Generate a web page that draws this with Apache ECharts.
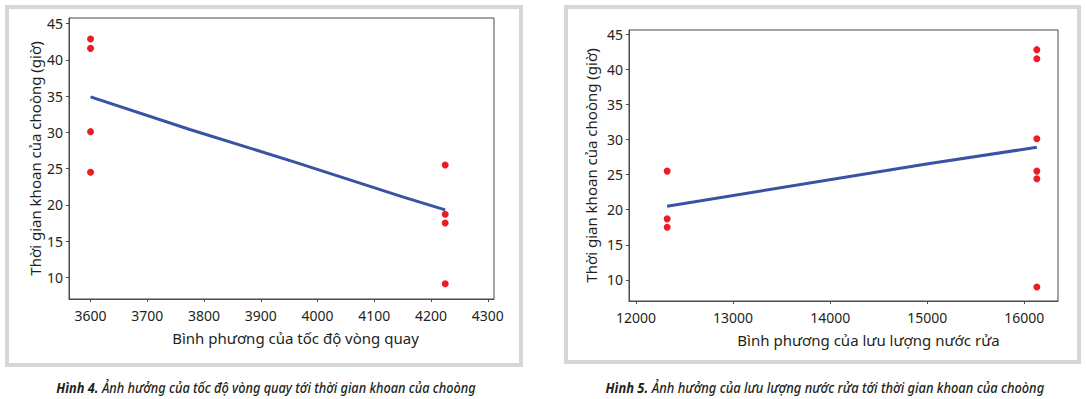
<!DOCTYPE html>
<html>
<head>
<meta charset="utf-8">
<script src="https://cdn.jsdelivr.net/npm/echarts@6/dist/echarts.min.js"></script>
<style>
  html, body { margin: 0; padding: 0; background: #fff; }
  #chart { width: 1086px; height: 399px; }
</style>
</head>
<body>
<div id="chart"></div>
<script>
// du lieu doc tu hinh
var yTicks = [10, 15, 20, 25, 30, 35, 40, 45];
var speedTicks = [3600, 3700, 3800, 3900, 4000, 4100, 4200, 4300];
var flowTicks = [12000, 13000, 14000, 15000, 16000];

// Hinh 4: binh phuong toc do vong quay
var speedX = [3600, 3600, 3600, 3600, 4225, 4225, 4225, 4225];
var speedY = [42.9, 41.6, 30.1, 24.5, 25.5, 18.7, 17.5, 9.1];
var speedFitX = [3600, 3775, 3960, 4150, 4225];
var speedFitY = [34.9, 30.4, 25.9, 21.1, 19.3];

// Hinh 5: binh phuong luu luong nuoc rua
var flowX = [12321, 12321, 12321, 16129, 16129, 16129, 16129, 16129, 16129];
var flowY = [25.5, 18.7, 17.5, 42.8, 41.5, 30.1, 25.5, 24.4, 9.0];
var flowFitX = [12321, 14992, 16129];
var flowFitY = [20.5, 26.5, 28.9];

var yName = "Thời gian khoan của choòng (giờ)";
var font = "'Noto Sans', 'Open Sans', sans-serif";
var capFont = "'Noto Sans', sans-serif";
var txt = "#231f20";
var axisCol = "#4a4a4a";
var red = "#ec1c24";
var blue = "#3a52a4";

function pairs(xs, ys) {
  return xs.map(function (x, i) { return [x, ys[i]]; });
}

function plain(v) {
  return String(v);
}

function xAxisOf(idx, min, max, ticks, name, pad) {
  return {
    type: "value",
    gridIndex: idx,
    min: min,
    max: max,
    axisLine: { show: true, onZero: false, lineStyle: { color: axisCol, width: 1 } },
    axisTick: { show: true, length: 3, customValues: ticks, lineStyle: { color: axisCol } },
    axisLabel: { customValues: ticks, formatter: plain, color: txt, fontSize: 14, fontFamily: font, margin: 9 },
    splitLine: { show: false },
    name: name,
    nameLocation: "middle",
    nameGap: 31,
    nameTextStyle: { color: txt, fontSize: 15, fontFamily: font, padding: [0, 0, 0, pad] }
  };
}

function yAxisOf(idx, max, gap) {
  return {
    type: "value",
    gridIndex: idx,
    min: 7,
    max: max,
    axisLine: { show: true, onZero: false, lineStyle: { color: axisCol, width: 1 } },
    axisTick: { show: true, length: 3, customValues: yTicks, lineStyle: { color: axisCol } },
    axisLabel: { customValues: yTicks, formatter: plain, color: txt, fontSize: 14, fontFamily: font, margin: 6 },
    splitLine: { show: false },
    name: yName,
    nameLocation: "middle",
    nameGap: gap,
    nameTextStyle: { color: txt, fontSize: 15, fontFamily: font }
  };
}

function caption(cx, head, body, sx) {
  return {
    type: "text", x: cx, y: 387, scaleX: sx,
    style: {
      text: "{b|" + head + "}{n| " + body + "}",
      textAlign: "center",
      textVerticalAlign: "middle",
      rich: {
        b: { fontFamily: capFont, fontSize: 15, fontStyle: "italic", fontWeight: "bold", fill: txt },
        n: { fontFamily: capFont, fontSize: 15, fontStyle: "italic", fontWeight: 500, fill: txt }
      }
    }
  };
}

var chart = echarts.init(document.getElementById("chart"), null, { renderer: "svg" });

var option = {
  animation: false,
  backgroundColor: "#fff",
  grid: [
    { left: 69, top: 18, width: 425, height: 281, show: true, borderColor: axisCol, borderWidth: 1, backgroundColor: "transparent" },
    { left: 629, top: 30, width: 429, height: 271, show: true, borderColor: axisCol, borderWidth: 1, backgroundColor: "transparent" }
  ],
  xAxis: [
    xAxisOf(0, 3562, 4311, speedTicks, "Bình phương của tốc độ vòng quay", 28),
    xAxisOf(1, 11928, 16347, flowTicks, "Bình phương của lưu lượng nước rửa", 50)
  ],
  yAxis: [
    yAxisOf(0, 45.79, 27),
    yAxisOf(1, 45.6, 31)
  ],
  graphic: [
    { type: "rect", z: -10, shape: { x: 7, y: 7, width: 514, height: 358 }, style: { fill: "#fff", stroke: "#d6d6d6", lineWidth: 4 } },
    { type: "rect", z: -10, shape: { x: 566, y: 7, width: 513, height: 355 }, style: { fill: "#fff", stroke: "#d6d6d6", lineWidth: 4 } },
    caption(266, "Hình 4.", "Ảnh hưởng của tốc độ vòng quay tới thời gian khoan của choòng", 0.85),
    caption(825, "Hình 5.", "Ảnh hưởng của lưu lượng nước rửa tới thời gian khoan của choòng", 0.86)
  ],
  series: [
    {
      type: "line", xAxisIndex: 0, yAxisIndex: 0,
      data: pairs(speedFitX, speedFitY),
      showSymbol: false, lineStyle: { color: blue, width: 3 }
    },
    {
      type: "scatter", xAxisIndex: 0, yAxisIndex: 0,
      data: pairs(speedX, speedY),
      symbolSize: 7, itemStyle: { color: red, opacity: 1 }
    },
    {
      type: "line", xAxisIndex: 1, yAxisIndex: 1,
      data: pairs(flowFitX, flowFitY),
      showSymbol: false, lineStyle: { color: blue, width: 3 }
    },
    {
      type: "scatter", xAxisIndex: 1, yAxisIndex: 1,
      data: pairs(flowX, flowY),
      symbolSize: 7, itemStyle: { color: red, opacity: 1 }
    }
  ]
};

chart.setOption(option);
</script>
</body>
</html>
